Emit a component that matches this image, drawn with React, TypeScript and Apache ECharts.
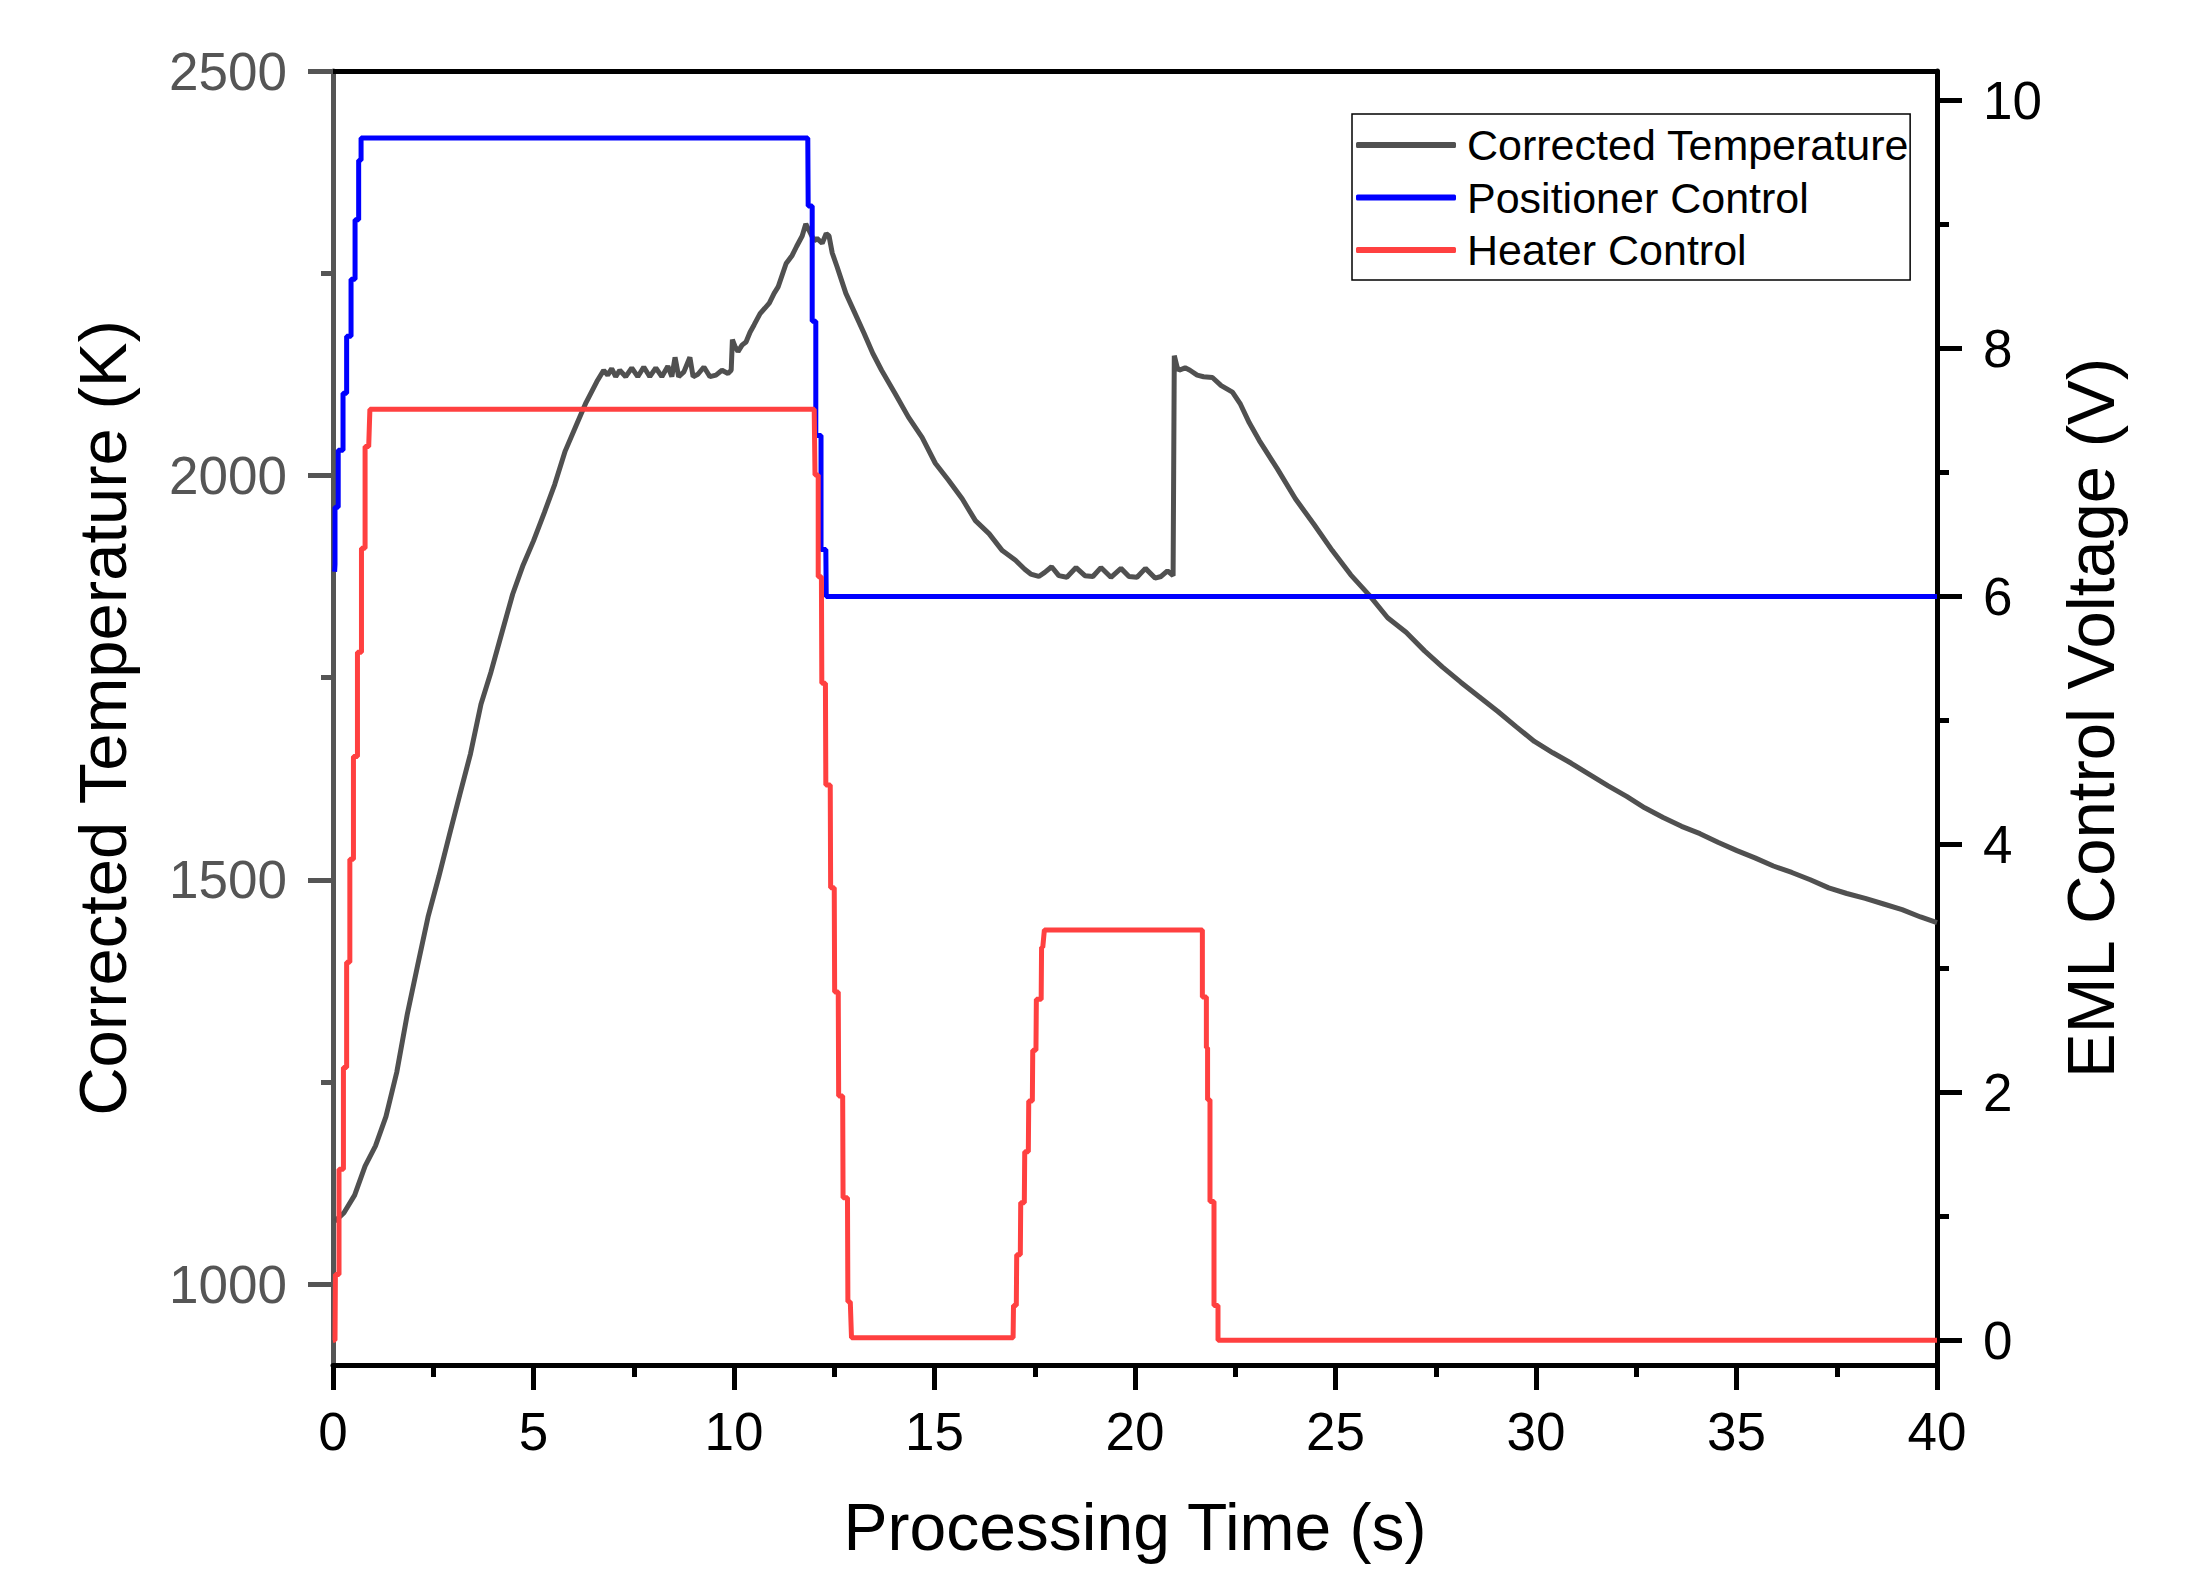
import React, { useEffect, useRef } from "react";
import * as echarts from "echarts";

// ---- Data ----
const seriesNames = ["Corrected Temperature", "Positioner Control", "Heater Control"];

const tempTime = [
  0.05, 0.27, 0.54, 0.8, 1.06, 1.32, 1.59, 1.85, 2.11, 2.37, 2.64, 2.9, 3.16, 3.43, 3.69, 3.94, 4.22, 4.48, 4.74, 5.0,
  5.27, 5.53, 5.79, 6.05, 6.31, 6.58, 6.75,
  6.85, 6.95, 7.05, 7.15, 7.3, 7.45, 7.6, 7.75, 7.9, 8.05, 8.2, 8.35, 8.45, 8.53, 8.62, 8.75, 8.9, 8.98, 9.1, 9.25,
  9.4, 9.55, 9.7, 9.85, 9.93,
  9.96, 10.02, 10.1, 10.2, 10.3, 10.4, 10.5, 10.65, 10.88, 11.0, 11.1, 11.3, 11.45, 11.56, 11.7, 11.79, 11.9, 12.0,
  12.07, 12.2, 12.3, 12.37, 12.45, 12.57, 12.79, 13.02, 13.24, 13.46, 13.68, 14.02, 14.35, 14.69, 15.02, 15.35, 15.69,
  16.02, 16.36, 16.69, 17.02, 17.25,
  17.4, 17.6, 17.75, 17.92, 18.1, 18.3, 18.53, 18.75, 18.95, 19.15, 19.4, 19.65, 19.85, 20.05, 20.26, 20.5, 20.65,
  20.81, 20.95,
  20.98, 21.05, 21.1, 21.25, 21.37, 21.55, 21.71, 21.93, 22.15, 22.43, 22.63, 22.85, 23.1, 23.55, 24.0, 24.47, 24.92,
  25.38, 25.84, 26.3, 26.76, 27.22, 27.67, 28.13, 28.59, 29.05, 29.51, 29.96, 30.42, 30.88, 31.34, 31.8, 32.26, 32.71,
  33.17, 33.63, 34.09, 34.55, 35.01, 35.46, 35.92, 36.38, 36.84, 37.3, 37.75, 38.21, 38.67, 39.13, 39.59, 40.0,
];
const tempValue = [
  1078, 1088, 1110, 1146, 1171, 1207, 1262, 1333, 1394, 1454, 1504, 1555, 1605, 1656, 1717, 1757, 1807, 1853, 1889, 1919,
  1954, 1989, 2030, 2060, 2090, 2116, 2130,
  2124, 2132, 2122, 2130, 2122, 2133, 2122, 2134, 2122, 2133, 2122, 2135, 2122, 2146, 2122, 2128, 2146, 2122, 2125, 2134,
  2122, 2124, 2130, 2126, 2130,
  2168, 2160, 2153, 2161, 2165, 2177, 2186, 2200, 2213, 2225, 2233, 2262, 2272, 2283, 2296, 2311, 2300, 2290,
  2293, 2287, 2299, 2296, 2275, 2258, 2225, 2200, 2176, 2151, 2130, 2101, 2072, 2047, 2015, 1994, 1971,
  1944, 1928, 1907, 1895, 1884,
  1878, 1875, 1880, 1887, 1876, 1874, 1886, 1876, 1875, 1886, 1874, 1885, 1875, 1874, 1885, 1873, 1875,
  1882, 1876,
  2148, 2134, 2130, 2133, 2130, 2124, 2122, 2121, 2111, 2103, 2088, 2065, 2043, 2008, 1971, 1939, 1907,
  1877, 1852, 1824, 1806, 1783, 1763, 1744, 1726, 1708, 1689, 1671, 1657, 1644, 1630, 1616, 1603, 1589,
  1577, 1566, 1557, 1546, 1536, 1527, 1517, 1509, 1500, 1490, 1483, 1477, 1470, 1463, 1454, 1447,
];

const posTime = [
  0.04, 0.05, 0.05, 0.13, 0.13, 0.25, 0.25, 0.34, 0.34, 0.45, 0.45, 0.55, 0.55, 0.64, 0.64, 0.7, 0.7,
  11.84, 11.85, 11.95, 11.95, 12.04, 12.04, 12.17, 12.17, 12.29, 12.3, 40.0,
];
const posValue = [
  6.2, 6.26, 6.72, 6.72, 7.18, 7.18, 7.64, 7.64, 8.1, 8.1, 8.56, 8.56, 9.04, 9.04, 9.52, 9.52, 9.7,
  9.7, 9.15, 9.15, 8.22, 8.22, 7.3, 7.3, 6.38, 6.38, 6.0, 6.0,
];

const heatTime = [
  0.0, 0.05, 0.06, 0.15, 0.15, 0.26, 0.26, 0.34, 0.34, 0.42, 0.42, 0.51, 0.51, 0.61, 0.61, 0.71, 0.71, 0.8, 0.8, 0.89,
  0.92, 12.0, 12.02, 12.1, 12.1, 12.18, 12.19, 12.28, 12.29, 12.4, 12.41, 12.5, 12.51, 12.6, 12.61, 12.71, 12.72,
  12.83, 12.84, 12.9, 12.93,
  16.96, 16.97, 17.04, 17.05, 17.14, 17.15, 17.24, 17.25, 17.34, 17.35, 17.44, 17.45, 17.53, 17.54, 17.66, 17.67,
  17.7, 17.74, 21.68, 21.68, 21.78, 21.78, 21.81, 21.81, 21.87, 21.87, 21.97, 21.97, 22.07, 22.07, 40.0,
];
const heatValue = [
  0.0, 0.0, 0.53, 0.53, 1.38, 1.38, 2.2, 2.2, 3.05, 3.05, 3.88, 3.88, 4.71, 4.71, 5.55, 5.55, 6.39, 6.39, 7.21, 7.21,
  7.51, 7.51, 6.98, 6.98, 6.16, 6.16, 5.3, 5.3, 4.48, 4.48, 3.65, 3.65, 2.81, 2.81, 1.97, 1.97, 1.15,
  1.15, 0.31, 0.31, 0.02,
  0.02, 0.28, 0.28, 0.69, 0.69, 1.11, 1.11, 1.52, 1.52, 1.93, 1.93, 2.34, 2.34, 2.75, 2.75, 3.17,
  3.17, 3.31, 3.31, 2.77, 2.77, 2.36, 2.36, 1.94, 1.94, 1.12, 1.12, 0.28, 0.28, 0.0, 0.0,
];

const xMin = 0;
const xMax = 40;
const xInterval = 5;
const leftMin = 900;
const leftMax = 2500;
const leftTickValues = [1000, 1500, 2000, 2500];
const leftMinorTicks = [1250, 1750, 2250];
const rightMin = -0.2;
const rightMax = 10.24;
const rightTickValues = [0, 2, 4, 6, 8, 10];
const rightMinorTicks = [1, 3, 5, 7, 9];

const xTitle = "Processing Time (s)";
const leftTitle = "Corrected Temperature (K)";
const rightTitle = "EML Control Voltage (V)";

const pairs = (xs: number[], ys: number[]) => xs.map((x, i) => [x, ys[i]]);
const plain = (v: number) => String(v);

const FONT = "'Liberation Sans', Arial, Helvetica, sans-serif";
const GRAY = "#555555";
const BLACK = "#000000";

export default function App() {
  const ref = useRef<HTMLDivElement>(null);

  useEffect(() => {
    if (!ref.current) return;
    const chart = echarts.init(ref.current, null, { renderer: "svg" });

    const option: any = {
      animation: false,
      backgroundColor: "#ffffff",
      textStyle: { fontFamily: FONT },
      grid: { left: 333, right: 267, top: 71, bottom: 221, containLabel: false },
      legend: {
        show: true,
        orient: "vertical",
        left: 1352,
        top: 114,
        data: seriesNames,
        icon: "roundRect",
        itemWidth: 100,
        itemHeight: 6,
        itemGap: 9.5,
        padding: [9.5, 1, 8.5, 4],
        borderColor: BLACK,
        borderWidth: 1.5,
        backgroundColor: "#ffffff",
        selectedMode: false,
        textStyle: { fontSize: 43, lineHeight: 43, color: BLACK, fontFamily: FONT, padding: [0, 0, 0, 6] },
      },
      xAxis: [
        {
          type: "value",
          position: "bottom",
          min: xMin,
          max: xMax,
          interval: xInterval,
          axisLine: { show: true, onZero: false, lineStyle: { color: BLACK, width: 5 } },
          axisTick: { show: true, inside: false, length: 25, lineStyle: { color: BLACK, width: 5 } },
          minorTick: { show: true, splitNumber: 2, length: 12, lineStyle: { color: BLACK, width: 5 } },
          axisLabel: { show: true, margin: 40, fontSize: 53, color: BLACK, fontFamily: FONT, formatter: plain },
          splitLine: { show: false },
          name: xTitle,
          nameLocation: "middle",
          nameGap: 129,
          nameTextStyle: { fontSize: 66, color: BLACK, fontFamily: FONT },
        },
        {
          type: "value",
          position: "top",
          min: xMin,
          max: xMax,
          axisLine: { show: true, onZero: false, lineStyle: { color: BLACK, width: 5 } },
          axisTick: { show: false },
          axisLabel: { show: false },
          splitLine: { show: false },
        },
      ],
      yAxis: [
        {
          type: "value",
          position: "left",
          min: leftMin,
          max: leftMax,
          axisLine: { show: true, onZero: false, lineStyle: { color: GRAY, width: 5 } },
          axisTick: { show: true, inside: false, length: 25, customValues: leftTickValues, lineStyle: { color: GRAY, width: 5 } },
          axisLabel: { show: true, customValues: leftTickValues, margin: 46, fontSize: 53, color: GRAY, fontFamily: FONT, formatter: plain },
          splitLine: { show: false },
          name: leftTitle,
          nameLocation: "middle",
          nameRotate: 90,
          nameGap: 197,
          nameTextStyle: { fontSize: 67, color: BLACK, fontFamily: FONT },
        },
        {
          type: "value",
          position: "right",
          min: rightMin,
          max: rightMax,
          axisLine: { show: true, onZero: false, lineStyle: { color: BLACK, width: 5 } },
          axisTick: { show: true, inside: false, length: 25, customValues: rightTickValues, lineStyle: { color: BLACK, width: 5 } },
          axisLabel: { show: true, customValues: rightTickValues, margin: 46, fontSize: 53, color: BLACK, fontFamily: FONT, formatter: plain },
          splitLine: { show: false },
          name: rightTitle,
          nameLocation: "middle",
          nameRotate: 90,
          nameGap: 120,
          nameTextStyle: { fontSize: 67, color: BLACK, fontFamily: FONT },
        },
        {
          type: "value",
          position: "left",
          min: leftMin,
          max: leftMax,
          axisLine: { show: false, onZero: false },
          axisTick: { show: true, inside: false, length: 12, customValues: leftMinorTicks, lineStyle: { color: GRAY, width: 5 } },
          axisLabel: { show: false },
          splitLine: { show: false },
        },
        {
          type: "value",
          position: "right",
          min: rightMin,
          max: rightMax,
          axisLine: { show: false, onZero: false },
          axisTick: { show: true, inside: false, length: 12, customValues: rightMinorTicks, lineStyle: { color: BLACK, width: 5 } },
          axisLabel: { show: false },
          splitLine: { show: false },
        },
      ],
      series: [
        {
          name: seriesNames[0],
          type: "line",
          xAxisIndex: 0,
          yAxisIndex: 0,
          data: pairs(tempTime, tempValue),
          showSymbol: false,
          symbol: "none",
          color: "#505050",
          lineStyle: { color: "#505050", width: 5 },
          z: 2,
        },
        {
          name: seriesNames[1],
          type: "line",
          xAxisIndex: 0,
          yAxisIndex: 1,
          data: pairs(posTime, posValue),
          showSymbol: false,
          symbol: "none",
          color: "#0000ff",
          lineStyle: { color: "#0000ff", width: 5 },
          z: 3,
        },
        {
          name: seriesNames[2],
          type: "line",
          xAxisIndex: 0,
          yAxisIndex: 1,
          data: pairs(heatTime, heatValue),
          showSymbol: false,
          symbol: "none",
          color: "#ff4040",
          lineStyle: { color: "#ff4040", width: 5 },
          z: 4,
        },
      ],
    };

    chart.setOption(option);
    return () => chart.dispose();
  }, []);

  return (
    <div
      ref={ref}
      style={{ position: "fixed", left: 0, top: 0, width: 2204, height: 1586, background: "#ffffff" }}
    />
  );
}
